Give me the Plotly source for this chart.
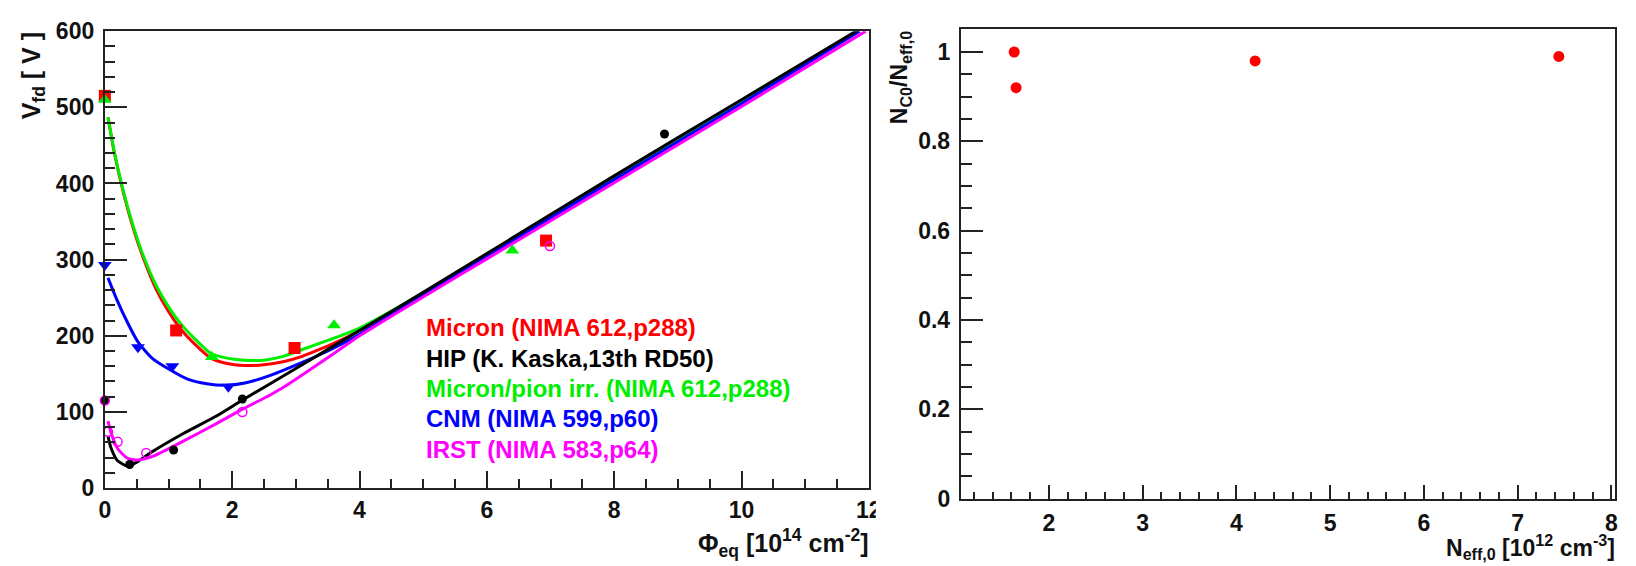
import plotly.graph_objects as go

# ---------------- Left panel: V_fd vs fluence ----------------
# measured points
micron_x = [0.0, 1.12, 2.98, 6.93]
micron_y = [515, 207, 184, 325]
hip_x = [0.0, 0.39, 1.08, 2.16, 8.79]
hip_y = [115, 31, 50, 117, 465]
pion_x = [0.0, 1.68, 3.6, 6.4]
pion_y = [510, 172, 214, 312]
cnm_x = [0.0, 0.52, 1.06, 1.94]
cnm_y = [293, 185, 160, 133]
irst_x = [0.0, 0.05, 0.2, 0.65, 2.16, 6.99]
irst_y = [115, 74, 61, 46, 100, 318]

# fitted curves
micron_fx = [0.05, 0.15, 0.3, 0.45, 0.6, 0.8, 1.0, 1.2, 1.4, 1.66, 1.9, 2.2, 2.5, 2.8, 3.1, 3.4, 3.7, 4.0, 5.0, 6.0, 8.0, 10.0, 11.85]
micron_fy = [487, 440, 385, 340, 303, 262, 232, 208, 190, 171, 164, 161, 162, 166, 173, 183, 194, 207, 254, 305, 405, 505, 600]
pion_fx = [0.05, 0.15, 0.3, 0.45, 0.6, 0.8, 1.0, 1.2, 1.4, 1.66, 1.9, 2.2, 2.5, 2.8, 3.1, 3.4, 3.7, 4.0, 5.0, 6.0, 8.0, 10.0, 11.85]
pion_fy = [487, 441, 387, 343, 306, 267, 238, 215, 197, 177, 171, 168, 168, 173, 182, 191, 200, 210, 256, 306, 406, 506, 600]
cnm_fx = [0.05, 0.15, 0.3, 0.52, 0.75, 1.03, 1.3, 1.6, 1.9, 2.2, 2.6, 3.1, 3.6, 4.0, 5.0, 6.0, 8.0, 10.0, 11.85]
cnm_fy = [276, 255, 227, 192, 170, 155, 143, 137, 135, 138, 148, 165, 184, 202, 254, 305, 405, 505, 600]
hip_fx = [0.05, 0.1, 0.2, 0.36, 0.52, 0.73, 1.24, 1.76, 2.17, 3.0, 4.0, 5.0, 6.0, 8.0, 10.0, 11.8]
hip_fy = [68, 52, 36, 29, 35, 47, 72, 95, 116, 157, 207, 257, 308, 410, 510, 600]
irst_fx = [0.05, 0.1, 0.2, 0.36, 0.52, 0.73, 1.24, 1.76, 2.17, 2.59, 2.8, 3.62, 4.0, 5.0, 6.0, 8.0, 10.0, 11.95]
irst_fy = [88, 72, 52, 39, 37, 41, 62, 85, 104, 122, 132, 178, 200, 251, 301, 401, 501, 600]

legend_labels = ["Micron (NIMA 612,p288)", "HIP (K. Kaska,13th RD50)",
                 "Micron/pion irr. (NIMA 612,p288)", "CNM (NIMA 599,p60)",
                 "IRST (NIMA 583,p64)"]
legend_colors = ["#ff0000", "#000000", "#00ee00", "#0000ff", "#ff00ff"]

# ---------------- Right panel ----------------
neff_x = [1.63, 1.65, 4.2, 7.44]
ratio_y = [1.0, 0.92, 0.98, 0.99]

RED, BLK, GRN, BLU, MAG = "#ff0000", "#000000", "#00ee00", "#0000ff", "#ff00ff"
FONT = "Liberation Sans, Arial, sans-serif"

fig = go.Figure()

def curve(x, y, c):
    fig.add_trace(go.Scatter(x=x, y=y, mode="lines", line=dict(color=c, width=3, shape="spline", smoothing=0.6),
                             xaxis="x", yaxis="y", showlegend=False, hoverinfo="skip", cliponaxis=True))

curve(micron_fx, micron_fy, RED)
curve(pion_fx, pion_fy, GRN)
curve(cnm_fx, cnm_fy, BLU)
curve(hip_fx, hip_fy, BLK)
curve(irst_fx, irst_fy, MAG)

def pts(x, y, c, sym, size, lw=0):
    fig.add_trace(go.Scatter(x=x, y=y, mode="markers",
                             marker=dict(color=c, symbol=sym, size=size, line=dict(color=c, width=lw)),
                             xaxis="x", yaxis="y", showlegend=False, cliponaxis=False))

pts(micron_x, micron_y, RED, "square", 12)
pts(pion_x, pion_y, GRN, "triangle-up", 12)
pts(cnm_x, cnm_y, BLU, "triangle-down", 12)
pts(hip_x, hip_y, BLK, "circle", 9)
pts(irst_x, irst_y, MAG, "circle-open", 9, 1.5)

fig.add_trace(go.Scatter(x=neff_x, y=ratio_y, mode="markers",
                         marker=dict(color=RED, symbol="circle", size=11),
                         xaxis="x2", yaxis="y2", showlegend=False, cliponaxis=False))

W, H = 1636, 566
def px(x):
    return x / W
def py(y):
    return (H - y) / H

axcommon = dict(showgrid=False, zeroline=False, showline=True, linecolor="#222222", linewidth=2,
                mirror=True, ticks="inside", tickcolor="#222222", tickwidth=2,
                tickfont=dict(family=FONT, size=23, color="#111111", weight="bold"))

fig.update_layout(
    width=W, height=H, margin=dict(l=0, r=0, t=0, b=0),
    paper_bgcolor="white", plot_bgcolor="white",
    xaxis=dict(axcommon, domain=[px(100), px(873)], range=[0, 12], dtick=2, tick0=0, ticklen=17,
               minor=dict(ticks="inside", dtick=0.5, ticklen=9, tickcolor="#222222", tickwidth=2),
               anchor="y"),
    yaxis=dict(axcommon, domain=[py(498), py(19)], range=[0, 600], dtick=100, tick0=0, ticklen=22,
               minor=dict(ticks="inside", dtick=20, ticklen=10, tickcolor="#222222", tickwidth=2),
               anchor="x", ticklabelstandoff=4),
    xaxis2=dict(axcommon, domain=[px(966), px(1628)], range=[1.06, 8.04], dtick=1, tick0=0, ticklen=14,
                minor=dict(ticks="inside", dtick=0.2, ticklen=7, tickcolor="#222222", tickwidth=2),
                anchor="y2", ticklabelstandoff=3),
    yaxis2=dict(axcommon, domain=[py(509), py(17)], range=[0, 1.051], dtick=0.2, tick0=0, ticklen=22,
                minor=dict(ticks="inside", dtick=0.05, ticklen=11, tickcolor="#222222", tickwidth=2),
                anchor="x2", ticklabelstandoff=4),
)

ann = []
legend_y = [330, 362, 394, 425, 457]
for lab, col, yy in zip(legend_labels, legend_colors, legend_y):
    ann.append(dict(x=px(423), y=py(yy), xref="paper", yref="paper", xanchor="left", yanchor="middle",
                    text="<b>" + lab + "</b>", showarrow=False,
                    font=dict(family=FONT, size=24, color=col)))

ann.append(dict(x=px(875), y=py(576), xref="paper", yref="paper", xanchor="right", yanchor="bottom",
                text="<b>Φ<sub>eq</sub> [10<sup>14</sup> cm<sup>-2</sup>]</b>", showarrow=False,
                font=dict(family=FONT, size=25, color="#111111")))
ann.append(dict(x=px(27), y=py(18), xref="paper", yref="paper", xanchor="center", yanchor="top",
                text="<b>V<sub>fd</sub> [ V ]</b>", showarrow=False, textangle=-90,
                font=dict(family=FONT, size=25, color="#111111")))
ann.append(dict(x=px(1630), y=py(579), xref="paper", yref="paper", xanchor="right", yanchor="bottom",
                text="<b>N<sub>eff,0</sub> [10<sup>12</sup> cm<sup>-3</sup>]</b>", showarrow=False,
                font=dict(family=FONT, size=23, color="#111111")))
ann.append(dict(x=px(905), y=py(17), xref="paper", yref="paper", xanchor="center", yanchor="top",
                text="<b>N<sub>C0</sub>/N<sub>eff,0</sub></b>", showarrow=False, textangle=-90,
                font=dict(family=FONT, size=23, color="#111111")))
fig.update_layout(annotations=ann)

# clip the "12" tick label at the panel edge like the original
fig.add_shape(type="rect", xref="paper", yref="paper", x0=px(880), x1=px(905), y0=py(530), y1=py(500),
              fillcolor="white", line=dict(width=0), layer="above")

fig.write_html("out.html")
